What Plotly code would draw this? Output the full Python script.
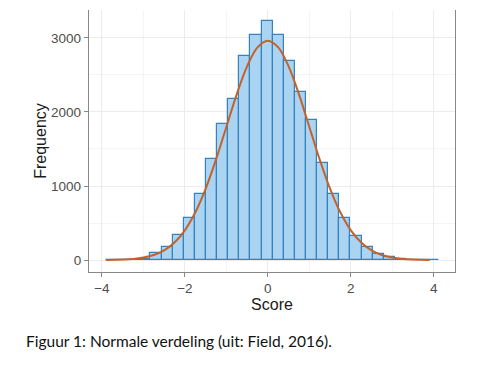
import plotly.graph_objects as go

# Histogram (30 bins)
bin_start = -3.9
bin_width = 0.2677
counts = [0, 0, 3, 20, 90, 176, 333, 563, 896, 1365, 1842, 2180, 2761, 3045, 3225,
          3045, 2689, 2275, 1887, 1306, 887, 572, 329, 176, 77, 36, 13, 5, 2, 1]

# Fitted normal curve, values read at these scores
curve_x = [-3.9, -3.5, -3.25, -3.0, -2.75, -2.5, -2.25, -2.0, -1.75, -1.5, -1.25, -1.0,
           -0.75, -0.5, -0.25, 0.0, 0.25, 0.5, 0.75, 1.0, 1.25, 1.5, 1.75, 2.0, 2.25,
           2.5, 2.75, 3.0, 3.25, 3.5, 3.9]
curve_y = [1.5, 6.5, 15, 33, 67, 130, 236, 401, 641, 962, 1357, 1798, 2238, 2616, 2873,
           2964, 2873, 2616, 2238, 1798, 1357, 962, 641, 401, 236, 130, 67, 33, 15, 6.5, 1.5]

x_ticks = [-4, -2, 0, 2, 4]
y_ticks = [0, 1000, 2000, 3000]
caption = "Figuur 1: Normale verdeling (uit: Field, 2016)."

centers = [bin_start + bin_width * (i + 0.5) for i in range(len(counts))]

fig = go.Figure()
fig.add_trace(go.Bar(
    x=centers, y=counts, width=bin_width,
    marker=dict(color="#aad4f1", line=dict(color="#3483bf", width=1.2)),
    showlegend=False, hoverinfo="skip",
))
fig.add_trace(go.Scatter(
    x=curve_x, y=curve_y, mode="lines", line=dict(color="#c4622c", width=2, shape="spline"),
    showlegend=False, hoverinfo="skip",
))

axis_font = dict(family="Liberation Sans, Arial, sans-serif", size=13.5, color="#4d4d4d")
title_font = dict(family="Liberation Sans, Arial, sans-serif", size=16, color="#1a1a1a")
fig.update_layout(
    width=478, height=367,
    margin=dict(l=81, r=31, t=2, b=103),
    paper_bgcolor="white", plot_bgcolor="white",
    bargap=0,
    xaxis=dict(
        range=[-4.31, 4.51], tickvals=x_ticks, ticktext=["\u22124", "\u22122", "0", "2", "4"],
        ticks="outside", ticklen=4, tickcolor="#888888", tickfont=axis_font,
        showline=True, linecolor="#888888", linewidth=1.3, mirror=False,
        showgrid=True, gridcolor="#ececec", gridwidth=1,
        minor=dict(dtick=1, tick0=-3, showgrid=True, gridcolor="#f4f4f4", gridwidth=0.6),
        zeroline=False, automargin=False,
        title=dict(text="Score", font=title_font, standoff=0),
    ),
    yaxis=dict(
        range=[-162, 3378], tickvals=y_ticks,
        ticks="outside", ticklen=4, tickcolor="#888888", tickfont=axis_font,
        showline=True, linecolor="#888888", linewidth=1.3, mirror=True,
        showgrid=True, gridcolor="#ececec", gridwidth=1,
        minor=dict(dtick=1000, tick0=500, showgrid=True, gridcolor="#f4f4f4", gridwidth=0.6),
        zeroline=False, automargin=False,
        title=dict(text="Frequency", font=title_font, standoff=0),
    ),
    annotations=[dict(
        text=caption, xref="paper", yref="paper", x=-0.177, y=-0.263,
        xanchor="left", yanchor="middle", showarrow=False,
        font=dict(family="Lato, Carlito, sans-serif", size=15.5, color="#111111"),
    )],
)

fig.write_html("out.html")
